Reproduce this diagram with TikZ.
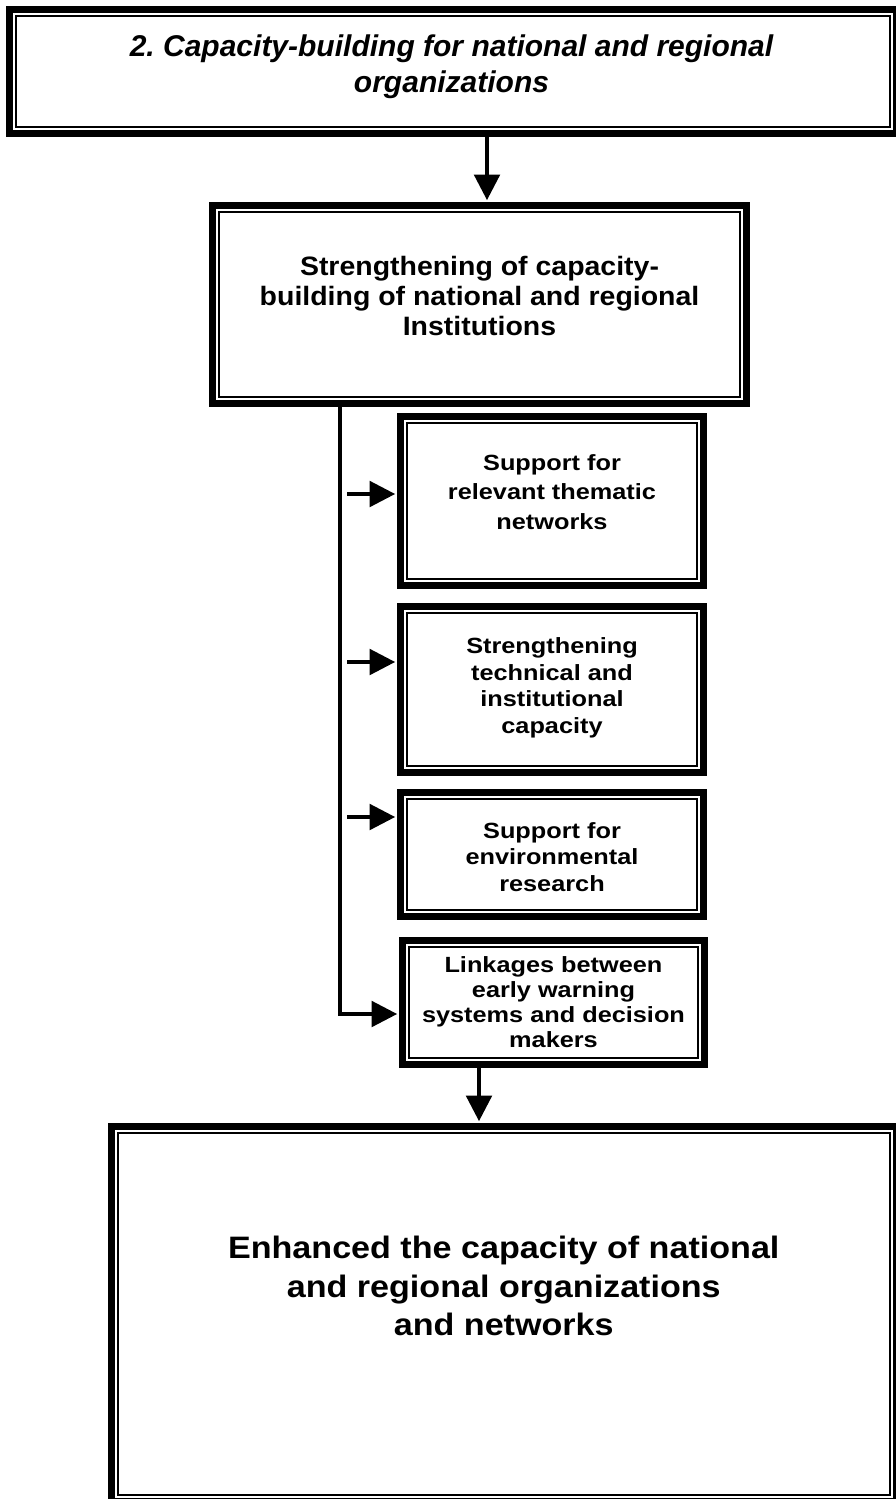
\documentclass[tikz,border=0pt]{standalone}
\usepackage{fontspec}
\setmainfont{Liberation Sans}
\newfontfamily\midfont[FakeStretch=1.07]{Liberation Sans}
\newfontfamily\smallfont[FakeStretch=1.15]{Liberation Sans}
\newfontfamily\endfont[FakeStretch=1.1]{Liberation Sans}
\usetikzlibrary{arrows.meta,calc}
\frenchspacing

\tikzset{
  framebox/.style={draw=black, line width=3.4pt, outer sep=1.7pt, inner sep=0pt, fill=white},
  innerline/.style={draw=black, line width=0.9pt},
  conn/.style={draw=black, line width=1.8pt, -{Triangle[length=12.8pt,width=12.8pt]}, shorten >=1pt},
  plainconn/.style={draw=black, line width=1.8pt},
  label/.style={align=center, inner sep=0pt, font=\bfseries},
}
% thin inner rule of a double frame, 9.5 units inside the outer edge
\newcommand\innerframe[1]{%
  \draw[innerline] ($(#1.north west)+(9.5,9.5)$) rectangle ($(#1.south east)+(-9.5,-9.5)$);}

\begin{document}
\begin{tikzpicture}[x=0.5pt,y=-0.5pt]
\useasboundingbox (0,0) rectangle (895,1499);

% frames
\node[framebox, minimum width=443.2pt, minimum height=61.95pt] (head) at (452.75,71.5) {};
\node[framebox, minimum width=266.95pt, minimum height=98.95pt] (inst) at (479.5,304.5) {};
\node[framebox, minimum width=151.45pt, minimum height=84.45pt] (net) at (552,501) {};
\node[framebox, minimum width=151.45pt, minimum height=82.95pt] (tech) at (552,689.5) {};
\node[framebox, minimum width=151.45pt, minimum height=61.95pt] (env) at (552,854.5) {};
\node[framebox, minimum width=150.95pt, minimum height=61.95pt] (warn) at (553.5,1002.5) {};
\node[framebox, minimum width=392.2pt, minimum height=187.2pt] (result) at (503.75,1313.75) {};
\foreach \b in {head,inst,net,tech,env,warn,result} {\innerframe{\b}}

% texts
\node[label, font=\bfseries\itshape\fontsize{15}{18}\selectfont] (headtxt) at (451.5,67)
  {2. Capacity-building for national and regional\\organizations};
\node[label, font=\midfont\bfseries\fontsize{13.3}{15}\selectfont] (insttxt) at (479.5,296)
  {Strengthening of capacity-\\building of national and regional\\Institutions};
\node[label, font=\smallfont\bfseries\fontsize{11}{14.75}\selectfont] (nettxt) at (552,492)
  {Support for\\relevant thematic\\networks};
\node[label, font=\smallfont\bfseries\fontsize{11}{13.25}\selectfont] (techtxt) at (552,688)
  {Strengthening\\technical and\\institutional\\capacity};
\node[label, font=\smallfont\bfseries\fontsize{11}{13.25}\selectfont] (envtxt) at (552,857)
  {Support for\\environmental\\research};
\node[label, font=\smallfont\bfseries\fontsize{11}{12.6}\selectfont] (warntxt) at (553.5,1002)
  {Linkages between\\early warning\\systems and decision\\makers};
\node[label, font=\endfont\bfseries\fontsize{15.5}{19.25}\selectfont] (resulttxt) at (503.75,1286)
  {Enhanced the capacity of national\\and regional organizations\\and networks};

% connectors
\coordinate (topx) at (487,0);
\draw[conn] (head.south -| topx) -- (inst.north -| topx);

\coordinate (a1) at (347,494);
\coordinate (a2) at (347,662);
\coordinate (a3) at (347,817);
\draw[conn] (a1) -- (a1 -| net.west);
\draw[conn] (a2) -- (a2 -| tech.west);
\draw[conn] (a3) -- (a3 -| env.west);

\coordinate (elbow) at (340,1014);
\draw[plainconn] (inst.south -| elbow) -- ([yshift=0.45pt]elbow);
\draw[conn] ([xshift=-0.9pt]elbow) -- (elbow -| warn.west);

\coordinate (botx) at (479,0);
\draw[conn] (warn.south -| botx) -- (result.north -| botx);
\end{tikzpicture}
\end{document}
